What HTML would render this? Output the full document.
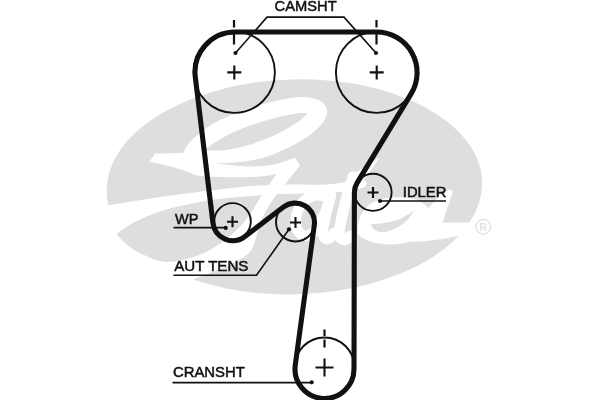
<!DOCTYPE html>
<html><head><meta charset="utf-8"><title>Timing belt diagram</title>
<style>
html,body{margin:0;padding:0;background:#fff;}
body{width:600px;height:400px;overflow:hidden;font-family:"Liberation Sans",sans-serif;}
svg{display:block;will-change:transform;}
text{font-family:"Liberation Sans",sans-serif;font-size:15.1px;fill:#111;stroke:#111;stroke-width:0.5px;}
</style></head><body>
<svg width="600" height="400" viewBox="0 0 600 400">
<rect width="600" height="400" fill="#fff"/>
<!-- watermark -->
<g>
<ellipse cx="294.4" cy="186.9" rx="187.8" ry="107.5" fill="#dedede" transform="rotate(-1.6 294.4 186.9)"/>
<g fill="#fff" stroke="none">
<!-- G loop outer -->
<path d="M183 153 C188 142 200 130 220 120 C245 108 280 98 302 97 C320 97 329 105 327 114 C324 128 300 145 266 157 C248 162 228 164 208 163 L195 160 Z"/>
<!-- flag + bar (top of 7) -->
<path d="M149.5 161.5 L155 153.5 L186 153 L205 161.5 C225 165 240 166.5 255 166.5 C270 166 282 163 295 157.5 L300 165.5 C286 172 270 177 250 177 C225 177.5 205 177 195 175 C185 170 170 166 149.5 161.5 Z"/>
<!-- stem of 7 and descender swoosh (band 2) -->
<path d="M283 166 L300 165.5 C291 177 280 190 272 201 C266 210 262 218 259 226 C256 238 254 246 250 252 C244 258 230 266 215 271 C207 274 200 277 194 279 L170 300 L100 215 L116.5 234 C122 241 135 256 165 262 C180 262 196 257 210 250 C225 241 238 230 246 220 C253 210 257 203 260 198 C268 186 276 174 283 166 Z"/>
<!-- band 1: crossbar swoosh -->
<path d="M95 208 L109 205.3 C150 198 190 193 210 190.5 C230 188 240 187 250 186 C275 184.5 300 184 320 185 L320 194 C300 193 275 194 250 196 C235 197.2 220 198.5 205 201 C190 204 172 207.5 160 211.5 C150 215 142 218.5 135 222 C128 226 122 230 116.5 234 L95 246 Z"/>
</g>
<!-- leaf tip extension -->
<path d="M116.5 234 C122 230 128 226 135 222 C142 218.5 150 215 160 211.5 L160 260 C140 256 126 246 116.5 234 Z" fill="#dedede"/>
<!-- lens (grey) -->
<path d="M205 150 C220 137 245 125.5 275 118 C290 114 300 112.5 308 113 C302 120 290 128 275 135 C250 146.5 225 152.5 205 150 Z" fill="#dedede"/>
<!-- letters a t e s as strokes -->
<g fill="none" stroke="#fff" stroke-linecap="round" stroke-linejoin="round">
<path d="M328 199 C320 191 303 195 297 213 C292 231 303 241 313 233 C321 225 327 209 331 195 C328 209 320 231 324 237 C327 241 331 238 334 233" stroke-width="10.5"/>
<path d="M353 177 C348.5 190 342.5 213 339.5 229 C337.5 239 343.5 243 350.5 236" stroke-width="11"/>
<path d="M318 189.5 C334 188.5 348 187 362 183.5" stroke-width="9"/>
<path d="M357.5 233 C357 222 361 211 370 204 C380 197.5 396 196 410 198 C418 199.5 424 203 428 208 L434 214 L428 239 L410 241.5 C400 245 385 245.5 372 242 C364 239.5 359 237 357.5 233 Z" fill="#fff" stroke="none"/>
<path d="M448.5 189.5 L453 191 L442.5 222.7 L480 222.3 L480 231 L460.5 235.2 C452 237.3 445 238.7 435 240 C428 241 420 242 410 241.5 L404 236 C410 232 415 226 420 219 C427 210.5 433 203 439.5 195 Z" fill="#fff" stroke="none"/>
</g>
<!-- t top tip -->
<path d="M348 178 C357 172 368 164 380 157 C374 166 366 177 359 187 Z" fill="#fff"/>
<!-- e crescent -->
<path d="M370.7 224.2 C378 224 390 223 400 219 C406 216 410 213.5 414 210.5 C411 217 405 223 398 227 C391 231 384 233 380 232 C375 231 372 228 370.7 224.2 Z" fill="#dedede"/>
<!-- registered mark -->
<g fill="none" stroke="#e2e2e2" stroke-width="1.3">
<circle cx="483.3" cy="226.8" r="7.3"/>
</g>
<text x="479.4" y="230.8" style="font-size:10.5px;fill:#e2e2e2;stroke:none;font-weight:bold">R</text>
</g>

<!-- pulleys -->
<g fill="none" stroke="#111" stroke-width="1.9">
<circle cx="234.3" cy="72.3" r="40.6"/>
<circle cx="376.5" cy="72.3" r="40.6"/>
<circle cx="232.5" cy="221.4" r="18.3"/>
<circle cx="295.5" cy="222" r="19.5"/>
<circle cx="373" cy="192.3" r="18.6"/>
<circle cx="324.5" cy="367.5" r="30"/>
</g>
<!-- belt -->
<path d="M235.20 32.00 A40.20 40.20 0 0 0 195.29 77.03 L212.94 223.00 A20.00 20.00 0 0 0 244.94 236.50 L283.49 207.06 A19.30 19.30 0 0 1 314.32 225.00 L295.27 365.02 A29.50 29.50 0 1 0 354.00 369.07 L354.40 192.46 A18.60 18.60 0 0 1 357.10 182.85 L411.21 93.66 A40.60 40.60 0 0 0 376.50 32.00 Z" fill="none" stroke="#111" stroke-width="5.1" stroke-linejoin="round"/>
<!-- crosses -->
<g stroke="#111" stroke-width="2.1" fill="none">
<path d="M227.3 72.4h14M234.3 65.4v14"/>
<path d="M369.7 72.4h14M376.7 65.4v14"/>
<path d="M227 221.7h11M232.5 216.2v11"/>
<path d="M290 222.5h11M295.5 217v11"/>
<path d="M367.5 192.5h11M373 187v11"/>
<path d="M315.5 367.5h18M324.5 358.5v18"/>
</g>
<!-- dashed timing marks -->
<g stroke="#111" stroke-width="2.2" fill="none">
<path d="M234 20v7.5M234 34v10.5"/>
<path d="M376.5 20v7.5M376.5 34v10.5"/>
<path d="M324.5 329.5v6.5M324.5 339.5v8"/>
</g>
<!-- leaders -->
<g stroke="#111" stroke-width="1.6" fill="none">
<path d="M235.5 53L267 17.1H344L376 53"/>
<path d="M173.5 227.6H225.5"/>
<path d="M173.4 275.2H256.5L289 229.3"/>
<path d="M380 201H446"/>
<path d="M172.5 382.6H311.5"/>
</g>
<g fill="#111">
<circle cx="235.5" cy="53" r="2.1"/>
<circle cx="376" cy="53" r="2.1"/>
<circle cx="225.7" cy="227.9" r="2.1"/>
<circle cx="289" cy="229.3" r="2.1"/>
<circle cx="380" cy="201" r="2.1"/>
<circle cx="311.7" cy="382.3" r="2.1"/>
</g>
<!-- labels -->
<g>
<text x="274.6" y="11.1" style="font-size:14.7px">CAMSHT</text>
<text x="175" y="223.8" style="font-size:14.5px">WP</text>
<text x="174.3" y="271.4">AUT TENS</text>
<text x="402.8" y="197.1" style="font-size:14.8px">IDLER</text>
<text x="172.9" y="377.2" style="font-size:14.9px">CRANSHT</text>
</g>
</svg>
</body></html>
